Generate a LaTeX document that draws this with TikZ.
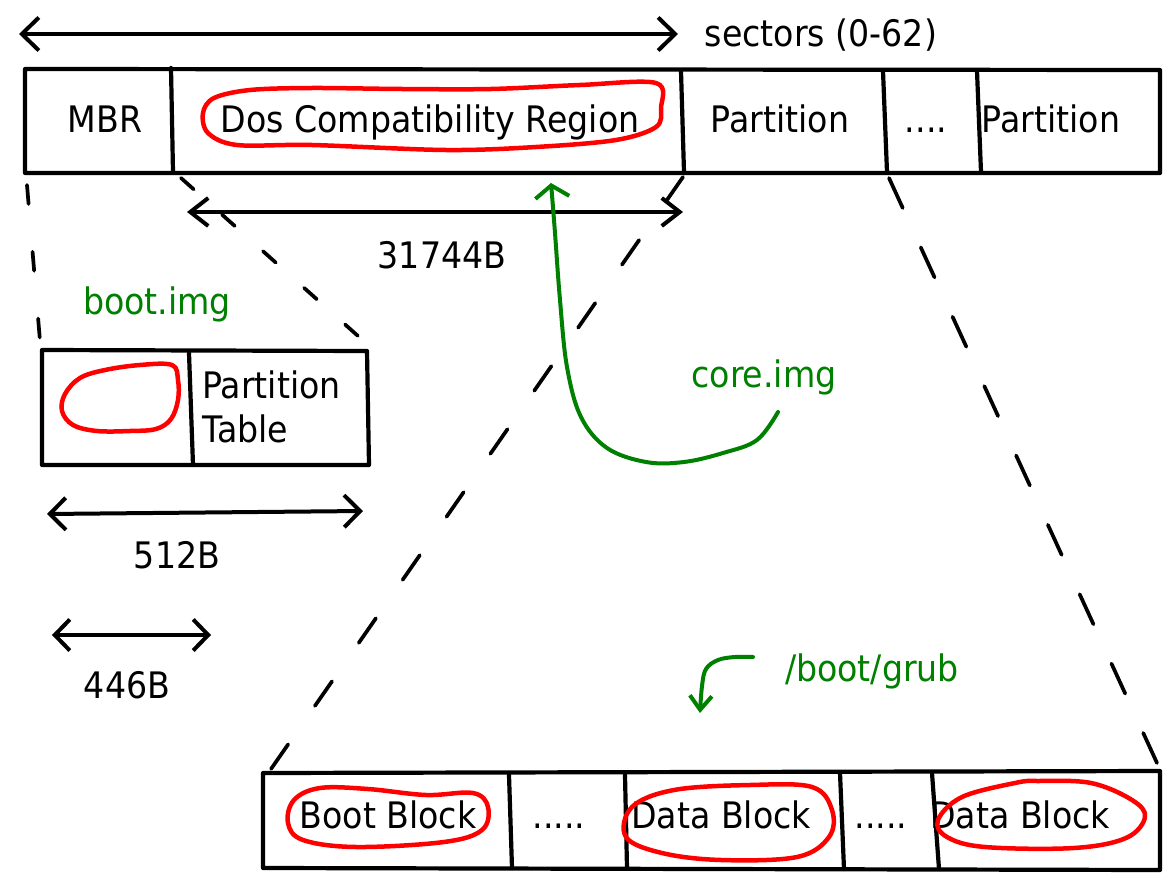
\documentclass[tikz,border=0pt]{standalone}
\usepackage{fontspec}
\setmainfont{DejaVu Sans}[FakeStretch=0.91]
\usetikzlibrary{arrows.meta}
\definecolor{pengreen}{RGB}{0,128,0}
\definecolor{penred}{RGB}{255,0,0}
\begin{document}
\begin{tikzpicture}[x=1pt,y=-1pt,
  box/.style={line width=4.2pt, line cap=round, line join=round},
  cut/.style={line width=3.7pt, line cap=round},
  redloop/.style={penred, line width=4.5pt, line join=round},
  dim/.style={line width=4pt, line cap=round, {Straight Barb[length=16pt,width=32pt]}-{Straight Barb[length=16pt,width=32pt]}},
  lbl/.style={inner sep=0pt, anchor=base, font=\fontsize{36.5}{44}\selectfont},
  glbl/.style={lbl, text=pengreen},
  gpen/.style={pengreen, line width=4pt, line cap=round, line join=round}]
\useasboundingbox (0,0) rectangle (1173,883);

% ---------- top strip ----------
\coordinate (TL) at (25,69);
\coordinate (TR) at (1160,70);
\coordinate (BR) at (1160,173);
\coordinate (BL) at (25,173);
\draw[box] (TL) -- (TR) -- (BR) -- (BL) -- cycle;
\coordinate (d1t) at (171,68);  \coordinate (d1b) at (173,172);
\coordinate (d2t) at (681,71);  \coordinate (d2b) at (684,172);
\coordinate (d3t) at (883,71);  \coordinate (d3b) at (887,172);
\coordinate (d4t) at (977,71);  \coordinate (d4b) at (981,172);
\draw[box] (d1t) -- (d1b);
\draw[box] (d2t) -- (d2b);
\draw[box] (d3t) -- (d3b);
\draw[box] (d4t) -- (d4b);

\node[lbl] (mbr)  at (105,132) {MBR};
\node[lbl] (dos)  at (430,132) {Dos Compatibility Region};
\node[lbl] (p1)   at (780,132) {Partition};
\node[lbl] (dots) at (926,132) {....};
\node[lbl] (p2)   at (1051,132) {Partition};

\node[lbl] (sectors) at (821,47) {sectors (0-62)};
\coordinate (sA) at (19,34);
\coordinate (sB) at (678,34);
\draw[dim, {Straight Barb[length=17pt,width=33pt]}-{Straight Barb[length=17pt,width=33pt]}] (sA) -- (sB);

\draw[redloop] plot[smooth cycle, tension=0.55] coordinates {
  (656,83) (580,85) (491,89) (402,89) (312,88) (250,90) (214,98) (203,113)
  (208,133) (237,145) (312,145) (446,150) (536,147) (616,140) (656,127) (661,108)};

% ---------- 31744B ----------
\coordinate (cA) at (187,212);
\coordinate (cB) at (683,212);
\draw[dim, {Straight Barb[length=18pt,width=28pt]}-{Straight Barb[length=18pt,width=28pt]}] (cA) -- (cB);
\node[lbl] (size31744) at (442,268) {31744B};

% ---------- boot.img box ----------
\coordinate (mTL) at (42,350);
\coordinate (mTR) at (367,351);
\coordinate (mBR) at (369,465);
\coordinate (mBL) at (42,465);
\draw[box] (mTL) -- (mTR) -- (mBR) -- (mBL) -- cycle;
\draw[box] (189,353) -- (193,465);
\node[glbl] (bootimg) at (157,314) {boot.img};
\node[lbl, anchor=base west] (pt1) at (202,398) {Partition};
\node[lbl, anchor=base west] (pt2) at (202,442) {Table};
\draw[redloop] plot[smooth cycle, tension=0.6] coordinates {
  (172,365) (140,365) (105,370) (80,378) (65,394) (62,411) (73,425) (97,431)
  (130,431) (156,429) (171,419) (178,400) (178,380)};

\coordinate (eA) at (47,514);
\coordinate (eB) at (363,511);
\draw[dim] (eA) -- (eB);
\node[lbl] (size512) at (177,568) {512B};
\coordinate (fA) at (52,635);
\coordinate (fB) at (211,635);
\draw[dim, {Straight Barb[length=15pt,width=31pt]}-{Straight Barb[length=15pt,width=31pt]}] (fA) -- (fB);
\node[lbl] (size446) at (127,698) {446B};

% ---------- dashed zoom lines ----------
\coordinate (z1a) at (27,185);  \coordinate (z1b) at (40,341);
\coordinate (z2a) at (181,178); \coordinate (z2b) at (358,336);
\coordinate (z3a) at (683,177); \coordinate (z3b) at (271,769);
\coordinate (z4a) at (889,178); \coordinate (z4b) at (1157,763);
\draw[cut, dash pattern=on 19pt off 48pt] (z1a) -- (z1b);
\draw[cut, dash pattern=on 17pt off 38pt] (z2a) -- (z2b);
\draw[cut, dash pattern=on 30pt off 46.8pt] (z3a) -- (z3b);
\draw[cut, dash pattern=on 33pt off 43.3pt] (z4a) -- (z4b);

% ---------- core.img ----------
\node[glbl] (coreimg) at (764,387) {core.img};
\coordinate (k0) at (778,412);
\coordinate (k1) at (551,183);
\draw[gpen, -{Straight Barb[length=12pt,width=34pt]}] plot[smooth, tension=0.6] coordinates {
  (k0) (757,440) (723,453) (684,462) (646,462) (607,448) (581,417) (567,367)
  (560,300) (555,233) (552,195) (k1)};

% ---------- /boot/grub ----------
\node[glbl] (grub) at (872,681) {/boot/grub};
\coordinate (g0) at (753,657);
\coordinate (g1) at (700,713);
\draw[gpen, -{Straight Barb[length=14pt,width=22pt]}] plot[smooth, tension=0.6] coordinates {
  (g0) (735,657) (718,660) (706,669) (702,686) (g1)};

% ---------- bottom strip ----------
\coordinate (uTL) at (263,773);
\coordinate (uTR) at (1160,771);
\coordinate (uBR) at (1160,870);
\coordinate (uBL) at (263,868);
\draw[box] (uTL) -- (uTR) -- (uBR) -- (uBL) -- cycle;
\draw[box] (509,775) -- (512,868);
\draw[box] (625,775) -- (627,868);
\draw[box] (840,773) -- (844,869);
\draw[box] (932,773) -- (939,869);

\node[lbl] (bb)  at (388,828) {Boot Block};
\node[lbl] (bd1) at (559,828) {.....};
\node[lbl] (db1) at (721,828) {Data Block};
\node[lbl] (bd2) at (881,828) {.....};
\node[lbl] (db2) at (1020,828) {Data Block};

\draw[redloop] plot[smooth cycle, tension=0.6] coordinates {
  (473,793) (426,795) (368,789) (320,788) (294,800) (288,823) (303,840)
  (356,847) (444,842) (482,830) (488,807)};
\draw[redloop] plot[smooth cycle, tension=0.6] coordinates {
  (812,787) (832,810) (829,837) (797,857) (721,860) (662,853) (626,837)
  (632,807) (674,790) (750,785)};
\draw[redloop] plot[smooth cycle, tension=0.6] coordinates {
  (1038,781) (1091,783) (1132,800) (1145,817) (1126,838) (1074,848)
  (985,847) (947,837) (938,820) (962,797) (1015,783)};
\end{tikzpicture}
\end{document}
